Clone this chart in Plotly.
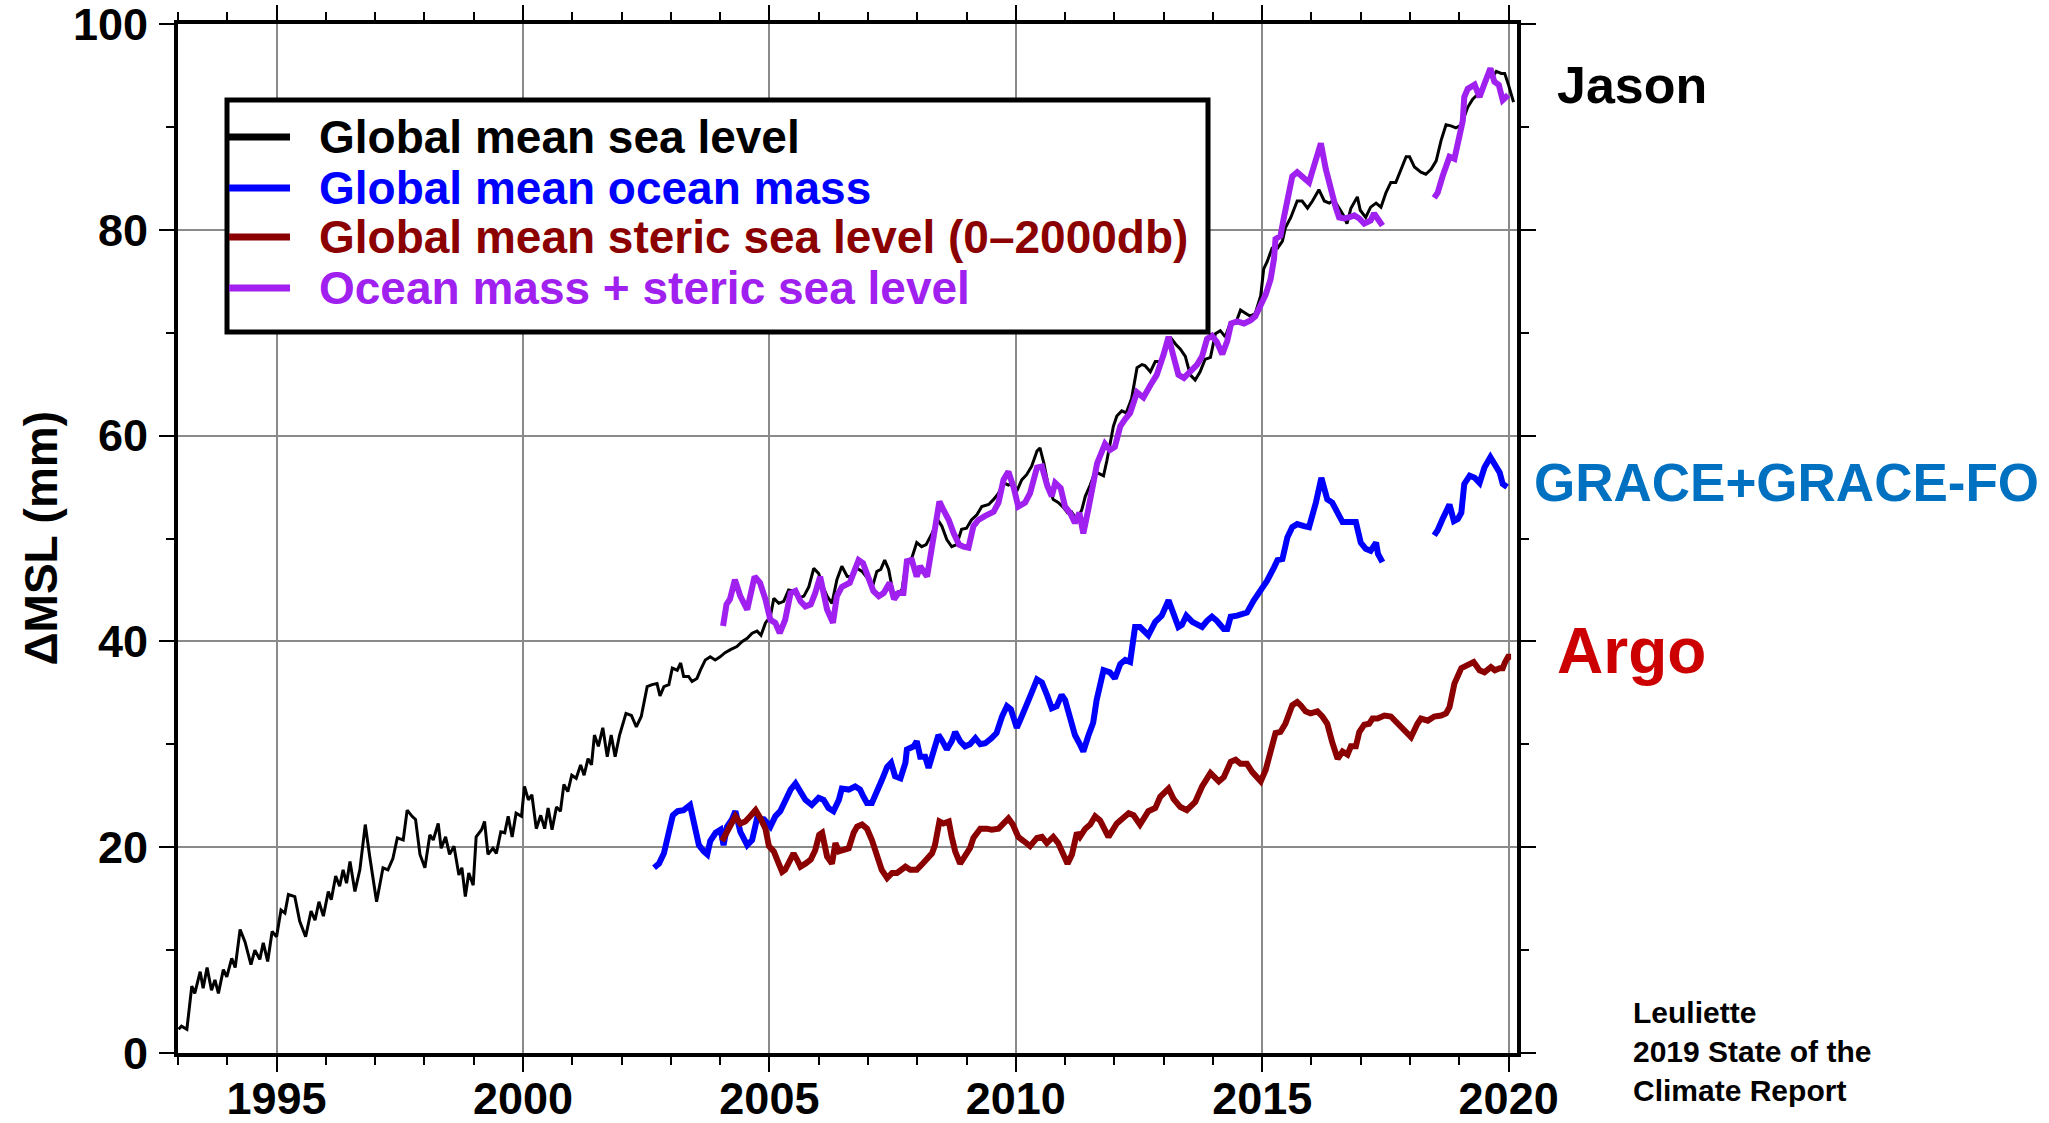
import plotly.graph_objects as go

# ---- Global mean sea level (Jason altimetry), mm ----
gmsl_year = [
    1993.01, 1993.07, 1993.18, 1993.28, 1993.34, 1993.45, 1993.51, 1993.59, 1993.68, 1993.75,
    1993.82, 1993.92, 1993.99, 1994.09, 1994.16, 1994.26, 1994.36, 1994.48, 1994.56, 1994.66,
    1994.73, 1994.82, 1994.91, 1995.00, 1995.09, 1995.17, 1995.24, 1995.37, 1995.47, 1995.59,
    1995.70, 1995.78, 1995.86, 1995.95, 1996.05, 1996.11, 1996.20, 1996.28, 1996.35, 1996.42,
    1996.49, 1996.59, 1996.69, 1996.80, 1996.89, 1997.03, 1997.16, 1997.26, 1997.36, 1997.45,
    1997.57, 1997.65, 1997.75, 1997.82, 1997.91, 1998.01, 1998.11, 1998.18, 1998.28, 1998.34,
    1998.43, 1998.51, 1998.60, 1998.70, 1998.76, 1998.83, 1998.90, 1998.99, 1999.05, 1999.16,
    1999.22, 1999.29, 1999.39, 1999.46, 1999.55, 1999.63, 1999.70, 1999.78, 1999.86, 1999.97,
    2000.03, 2000.11, 2000.18, 2000.27, 2000.36, 2000.44, 2000.51, 2000.59, 2000.68, 2000.76,
    2000.83, 2000.91, 2000.99, 2001.08, 2001.17, 2001.24, 2001.32, 2001.39, 2001.45, 2001.53,
    2001.62, 2001.71, 2001.79, 2001.87, 2001.96, 2002.09, 2002.20, 2002.30, 2002.40, 2002.52,
    2002.62, 2002.72, 2002.78, 2002.86, 2002.96, 2003.03, 2003.13, 2003.20, 2003.26, 2003.36,
    2003.43, 2003.53, 2003.60, 2003.70, 2003.80, 2003.90, 2004.00, 2004.10, 2004.21, 2004.34,
    2004.45, 2004.55, 2004.65, 2004.75, 2004.83, 2004.92, 2005.02, 2005.09, 2005.19, 2005.29,
    2005.39, 2005.49, 2005.59, 2005.70, 2005.80, 2005.90, 2006.00, 2006.09, 2006.17, 2006.27,
    2006.37, 2006.47, 2006.58, 2006.68, 2006.78, 2006.88, 2006.98, 2007.09, 2007.18, 2007.26,
    2007.34, 2007.42, 2007.51, 2007.59, 2007.69, 2007.78, 2007.89, 2007.99, 2008.09, 2008.18,
    2008.30, 2008.42, 2008.50, 2008.60, 2008.70, 2008.80, 2008.90, 2009.00, 2009.10, 2009.21,
    2009.31, 2009.45, 2009.55, 2009.65, 2009.75, 2009.85, 2009.94, 2010.02, 2010.12, 2010.22,
    2010.32, 2010.43, 2010.49, 2010.57, 2010.66, 2010.76, 2010.86, 2010.97, 2011.05, 2011.13,
    2011.24, 2011.34, 2011.41, 2011.51, 2011.61, 2011.78, 2011.85, 2011.98, 2012.05, 2012.15,
    2012.24, 2012.35, 2012.46, 2012.56, 2012.62, 2012.73, 2012.83, 2012.93, 2013.03, 2013.13,
    2013.24, 2013.34, 2013.44, 2013.54, 2013.64, 2013.74, 2013.84, 2013.95, 2014.05, 2014.15,
    2014.25, 2014.35, 2014.46, 2014.56, 2014.66, 2014.76, 2014.86, 2014.97, 2015.03, 2015.10,
    2015.20, 2015.31, 2015.41, 2015.47, 2015.58, 2015.71, 2015.81, 2015.92, 2016.02, 2016.15,
    2016.26, 2016.36, 2016.46, 2016.56, 2016.65, 2016.72, 2016.80, 2016.93, 2016.99, 2017.10,
    2017.20, 2017.31, 2017.41, 2017.51, 2017.61, 2017.71, 2017.82, 2017.92, 2017.99, 2018.09,
    2018.22, 2018.32, 2018.43, 2018.53, 2018.63, 2018.73, 2018.83, 2018.93, 2019.04, 2019.17,
    2019.27, 2019.38, 2019.48, 2019.58, 2019.68, 2019.75, 2019.85, 2019.92, 2019.99, 2020.05,
    2020.10,
]
gmsl_mm = [
    2.3, 2.6, 2.3, 6.5, 5.8, 7.9, 6.3, 8.3, 6.1, 7.1,
    5.8, 8.1, 7.4, 9.2, 8.3, 12.0, 10.8, 8.6, 10.0, 9.1,
    10.7, 8.9, 11.8, 11.3, 13.9, 13.6, 15.4, 15.2, 12.8, 11.3,
    13.8, 12.9, 14.7, 13.3, 15.7, 14.9, 17.2, 16.2, 17.8, 16.5,
    18.6, 15.7, 17.8, 22.2, 19.1, 14.7, 18.0, 17.8, 18.9, 20.9,
    20.7, 23.6, 23.0, 22.7, 19.3, 18.0, 21.2, 20.7, 22.3, 19.9,
    21.0, 19.3, 20.1, 17.3, 18.0, 15.2, 17.5, 16.3, 21.0, 21.7,
    22.5, 19.3, 19.9, 19.4, 21.5, 21.4, 23.0, 21.0, 23.3, 23.0,
    25.9, 24.6, 25.1, 21.8, 23.1, 21.8, 23.8, 21.7, 23.9, 23.5,
    26.1, 25.4, 27.0, 26.7, 28.0, 27.0, 28.6, 28.0, 30.9, 29.8,
    31.6, 28.8, 30.9, 28.8, 30.9, 33.0, 32.8, 31.7, 32.7, 35.6,
    35.8, 35.9, 34.7, 35.6, 35.8, 37.4, 37.2, 37.9, 36.6, 36.6,
    36.1, 36.4, 37.2, 38.2, 38.5, 38.2, 38.5, 38.9, 39.2, 39.5,
    40.0, 40.3, 40.8, 41.0, 40.6, 41.8, 42.4, 44.2, 43.7, 43.9,
    45.0, 44.9, 44.2, 44.4, 45.3, 47.1, 46.6, 45.3, 44.4, 43.7,
    46.0, 47.3, 46.3, 46.3, 47.1, 46.8, 46.2, 45.3, 46.8, 47.0,
    47.9, 47.0, 44.7, 44.7, 45.0, 47.8, 48.1, 49.6, 49.2, 49.4,
    50.5, 51.8, 51.2, 49.9, 49.2, 49.4, 50.9, 51.0, 51.8, 52.3,
    53.1, 53.3, 53.8, 54.4, 55.4, 55.2, 55.4, 54.6, 55.7, 56.2,
    57.0, 58.5, 58.8, 57.3, 55.1, 53.8, 53.5, 53.0, 52.5, 52.6,
    51.8, 52.8, 54.1, 55.2, 56.5, 56.1, 57.6, 60.9, 61.9, 62.4,
    62.2, 63.6, 66.6, 66.9, 66.8, 66.2, 67.2, 67.2, 68.1, 69.6,
    68.9, 68.4, 67.7, 65.9, 65.4, 66.2, 67.4, 67.6, 69.9, 70.2,
    69.6, 70.9, 70.9, 72.2, 71.9, 71.6, 71.9, 73.6, 76.2, 76.9,
    78.2, 78.2, 78.9, 80.2, 81.2, 82.8, 82.8, 82.1, 82.8, 83.9,
    82.8, 82.6, 82.9, 82.1, 81.4, 80.6, 82.1, 83.2, 81.9, 81.2,
    82.2, 82.6, 82.2, 83.6, 84.6, 84.6, 85.9, 87.1, 87.1, 86.1,
    85.6, 85.4, 85.9, 86.7, 88.7, 90.2, 90.1, 89.9, 90.2, 91.9,
    92.7, 93.2, 93.9, 94.9, 94.9, 95.4, 95.2, 95.2, 94.2, 93.2,
    92.4,
]

# ---- Global mean ocean mass (GRACE + GRACE-FO), mm; None marks the mission gap ----
mass_year = [
    2002.66, 2002.76, 2002.86, 2002.96, 2003.04, 2003.14, 2003.26, 2003.39, 2003.47, 2003.57,
    2003.67, 2003.74, 2003.80, 2003.91, 2004.01, 2004.07, 2004.14, 2004.24, 2004.31, 2004.41,
    2004.55, 2004.65, 2004.75, 2004.89, 2005.02, 2005.12, 2005.22, 2005.32, 2005.43, 2005.53,
    2005.63, 2005.73, 2005.86, 2006.00, 2006.10, 2006.20, 2006.30, 2006.41, 2006.47, 2006.61,
    2006.74, 2006.84, 2006.91, 2006.98, 2007.08, 2007.18, 2007.28, 2007.39, 2007.47, 2007.55,
    2007.66, 2007.76, 2007.79, 2007.93, 2007.99, 2008.06, 2008.16, 2008.23, 2008.33, 2008.43,
    2008.50, 2008.60, 2008.70, 2008.77, 2008.87, 2008.97, 2009.07, 2009.18, 2009.28, 2009.38,
    2009.51, 2009.61, 2009.72, 2009.82, 2009.90, 2010.02, 2010.12, 2010.22, 2010.32, 2010.43,
    2010.53, 2010.64, 2010.73, 2010.83, 2010.93, 2011.00, 2011.10, 2011.20, 2011.29, 2011.37,
    2011.47, 2011.57, 2011.64, 2011.78, 2011.91, 2012.01, 2012.12, 2012.22, 2012.32, 2012.42,
    2012.52, 2012.69, 2012.83, 2012.96, 2013.10, 2013.20, 2013.30, 2013.37, 2013.46, 2013.58,
    2013.78, 2013.88, 2013.98, 2014.08, 2014.22, 2014.29, 2014.36, 2014.49, 2014.69, 2014.83,
    2014.97, 2015.10, 2015.24, 2015.31, 2015.41, 2015.51, 2015.61, 2015.71, 2015.85, 2015.95,
    2016.09, 2016.20, 2016.32, 2016.42, 2016.53, 2016.63, 2016.76, 2016.90, 2017.00, 2017.10,
    2017.20, 2017.31, 2017.35, 2017.44, 2017.95, 2018.49, 2018.56, 2018.66, 2018.80, 2018.89,
    2018.97, 2019.04, 2019.10, 2019.21, 2019.31, 2019.41, 2019.51, 2019.63, 2019.72, 2019.82,
    2019.88, 2019.97,
]
mass_mm = [
    18.0, 18.4, 19.4, 21.7, 23.1, 23.5, 23.6, 24.1, 22.2, 20.2,
    19.6, 19.3, 20.6, 21.4, 21.7, 20.2, 22.0, 22.7, 23.5, 21.5,
    20.2, 20.7, 22.8, 22.7, 22.0, 23.0, 23.5, 24.6, 25.6, 26.2,
    25.3, 24.6, 24.1, 24.8, 24.6, 23.8, 23.5, 24.6, 25.7, 25.6,
    25.9, 25.6, 24.9, 24.3, 24.3, 25.6, 26.5, 27.8, 28.2, 26.9,
    26.7, 28.2, 29.5, 29.8, 30.3, 28.8, 28.8, 27.7, 29.1, 30.9,
    30.4, 29.5, 30.3, 31.2, 30.3, 29.8, 30.0, 30.6, 30.0, 30.1,
    30.6, 31.1, 32.7, 33.7, 33.4, 31.6, 32.7, 34.0, 35.0, 36.3,
    36.0, 34.7, 33.5, 33.7, 34.8, 34.3, 32.7, 30.9, 30.1, 29.3,
    30.8, 32.1, 34.3, 37.2, 37.0, 36.4, 37.8, 38.2, 38.0, 41.4,
    41.4, 40.6, 41.9, 42.5, 44.0, 42.5, 41.4, 41.6, 42.5, 41.9,
    41.4, 42.0, 42.4, 42.0, 41.2, 41.2, 42.4, 42.5, 42.8, 44.0,
    44.9, 45.9, 47.2, 47.9, 48.0, 50.1, 51.1, 51.4, 51.2, 51.1,
    53.5, 55.9, 53.8, 53.5, 52.5, 51.6, 51.6, 51.6, 49.6, 49.0,
    48.8, 49.6, 48.5, 47.7, None, 50.3, 50.8, 51.9, 53.3, 51.7,
    51.9, 52.5, 55.3, 56.1, 55.9, 55.4, 56.9, 57.9, 57.1, 56.4,
    55.3, 55.0,
]

# ---- Global mean steric sea level, 0-2000 dbar (Argo), mm ----
steric_year = [
    2004.04, 2004.14, 2004.21, 2004.31, 2004.41, 2004.51, 2004.61, 2004.72, 2004.82, 2004.92,
    2004.99, 2005.09, 2005.19, 2005.26, 2005.32, 2005.43, 2005.49, 2005.56, 2005.63, 2005.73,
    2005.84, 2005.93, 2006.01, 2006.07, 2006.17, 2006.27, 2006.34, 2006.41, 2006.51, 2006.61,
    2006.71, 2006.78, 2006.88, 2006.98, 2007.08, 2007.18, 2007.28, 2007.39, 2007.49, 2007.59,
    2007.67, 2007.76, 2007.86, 2007.99, 2008.09, 2008.20, 2008.30, 2008.36, 2008.45, 2008.53,
    2008.64, 2008.70, 2008.77, 2008.87, 2008.97, 2009.07, 2009.14, 2009.28, 2009.41, 2009.51,
    2009.65, 2009.75, 2009.85, 2009.94, 2010.05, 2010.16, 2010.29, 2010.43, 2010.53, 2010.63,
    2010.76, 2010.86, 2010.97, 2011.05, 2011.14, 2011.24, 2011.30, 2011.41, 2011.51, 2011.61,
    2011.71, 2011.88, 2012.05, 2012.29, 2012.39, 2012.52, 2012.69, 2012.83, 2012.93, 2013.10,
    2013.20, 2013.34, 2013.47, 2013.64, 2013.78, 2013.95, 2014.12, 2014.22, 2014.36, 2014.46,
    2014.56, 2014.69, 2014.80, 2014.97, 2015.07, 2015.17, 2015.27, 2015.37, 2015.47, 2015.61,
    2015.71, 2015.78, 2015.88, 2015.98, 2016.12, 2016.22, 2016.32, 2016.42, 2016.53, 2016.63,
    2016.73, 2016.80, 2016.90, 2016.97, 2017.07, 2017.17, 2017.24, 2017.34, 2017.48, 2017.61,
    2017.75, 2017.88, 2018.02, 2018.15, 2018.22, 2018.36, 2018.49, 2018.63, 2018.73, 2018.80,
    2018.90, 2019.04, 2019.17, 2019.29, 2019.41, 2019.51, 2019.64, 2019.72, 2019.82, 2019.88,
    2019.93, 2019.99, 2020.05,
]
steric_mm = [
    20.6, 21.5, 22.2, 23.0, 22.3, 22.5, 23.0, 23.6, 22.8, 21.8,
    20.1, 19.6, 18.4, 17.6, 17.8, 18.9, 19.4, 18.8, 18.1, 18.4,
    18.8, 19.7, 21.2, 21.4, 19.1, 18.4, 20.4, 19.6, 19.7, 19.9,
    21.4, 22.0, 22.2, 21.8, 20.7, 19.4, 17.8, 17.0, 17.5, 17.5,
    17.8, 18.1, 17.8, 17.8, 18.3, 18.8, 19.4, 20.2, 22.5, 22.3,
    22.5, 21.0, 19.6, 18.4, 19.1, 19.9, 20.9, 21.8, 21.8, 21.7,
    21.8, 22.3, 22.8, 22.2, 21.0, 20.6, 20.1, 20.9, 21.0, 20.4,
    21.0, 20.4, 19.4, 18.4, 19.3, 21.4, 21.0, 21.8, 22.2, 23.0,
    22.6, 21.0, 22.3, 23.3, 23.1, 22.2, 23.5, 23.8, 24.9, 25.7,
    24.7, 23.9, 23.6, 24.4, 25.9, 27.2, 26.4, 26.8, 28.3, 28.5,
    28.1, 28.1, 27.3, 26.4, 27.5, 29.1, 31.1, 31.2, 32.0, 33.8,
    34.1, 33.8, 33.2, 33.0, 33.2, 32.7, 32.0, 30.2, 28.6, 29.3,
    29.0, 29.8, 29.8, 31.2, 31.9, 32.0, 32.5, 32.5, 32.8, 32.7,
    32.0, 31.2, 30.7, 32.0, 32.5, 32.3, 32.7, 32.8, 33.0, 33.6,
    35.9, 37.4, 37.8, 38.0, 37.2, 37.0, 37.5, 37.2, 37.4, 37.4,
    38.0, 38.5, 38.5,
]

# ---- Ocean mass + steric sea level, mm ----
budget_year = [
    2004.06, 2004.13, 2004.20, 2004.30, 2004.41, 2004.55, 2004.70, 2004.81, 2004.92, 2005.02,
    2005.12, 2005.21, 2005.32, 2005.43, 2005.53, 2005.63, 2005.73, 2005.84, 2005.93, 2006.03,
    2006.17, 2006.29, 2006.37, 2006.47, 2006.63, 2006.71, 2006.81, 2006.90, 2007.01, 2007.11,
    2007.22, 2007.32, 2007.44, 2007.53, 2007.62, 2007.72, 2007.79, 2007.89, 2007.99, 2008.06,
    2008.20, 2008.33, 2008.45, 2008.53, 2008.64, 2008.74, 2008.85, 2008.94, 2009.04, 2009.14,
    2009.24, 2009.38, 2009.55, 2009.65, 2009.75, 2009.85, 2009.96, 2010.05, 2010.19, 2010.29,
    2010.43, 2010.53, 2010.64, 2010.73, 2010.80, 2010.91, 2011.00, 2011.10, 2011.20, 2011.29,
    2011.37, 2011.47, 2011.57, 2011.65, 2011.81, 2011.91, 2012.01, 2012.12, 2012.22, 2012.32,
    2012.46, 2012.59, 2012.73, 2012.86, 2013.00, 2013.10, 2013.20, 2013.30, 2013.41, 2013.54,
    2013.68, 2013.78, 2013.88, 2013.98, 2014.08, 2014.19, 2014.29, 2014.37, 2014.49, 2014.63,
    2014.76, 2014.86, 2014.97, 2015.07, 2015.17, 2015.24, 2015.27, 2015.37, 2015.44, 2015.61,
    2015.71, 2015.85, 2015.95, 2016.05, 2016.19, 2016.29, 2016.39, 2016.49, 2016.56, 2016.66,
    2016.76, 2016.87, 2016.97, 2017.07, 2017.20, 2017.27, 2017.34, 2017.44, 2017.95, 2018.49,
    2018.56, 2018.66, 2018.80, 2018.90, 2019.00, 2019.07, 2019.10, 2019.17, 2019.31, 2019.41,
    2019.51, 2019.63, 2019.71, 2019.80, 2019.88, 2019.99,
]
budget_mm = [
    41.5, 43.6, 44.1, 46.0, 44.4, 43.1, 46.3, 45.7, 44.1, 42.1,
    41.8, 40.8, 42.1, 44.7, 44.9, 43.9, 43.4, 43.6, 44.7, 46.3,
    43.1, 41.8, 44.4, 45.3, 45.7, 46.8, 47.9, 47.6, 46.0, 44.9,
    44.4, 44.7, 45.7, 44.1, 44.7, 44.7, 47.8, 47.9, 46.3, 47.3,
    46.3, 50.2, 53.6, 52.8, 51.8, 50.5, 49.4, 49.2, 49.1, 51.2,
    51.8, 52.2, 52.6, 53.5, 55.7, 56.5, 54.9, 53.1, 53.5, 54.4,
    56.9, 57.0, 55.1, 54.1, 55.4, 54.9, 53.1, 52.5, 51.5, 52.5,
    50.5, 52.8, 55.4, 57.3, 59.2, 58.6, 58.9, 60.9, 61.6, 62.2,
    64.2, 63.7, 64.9, 65.9, 67.9, 69.6, 67.7, 65.9, 65.6, 66.2,
    66.9, 67.7, 69.4, 69.7, 69.1, 67.9, 69.2, 70.9, 71.1, 70.9,
    71.2, 71.6, 72.7, 73.7, 75.2, 77.2, 79.1, 79.4, 81.2, 85.2,
    85.6, 85.1, 84.6, 86.2, 88.4, 85.9, 83.9, 82.2, 81.2, 81.1,
    81.2, 81.4, 81.1, 80.6, 80.9, 81.6, 81.1, 80.4, None, 83.1,
    83.6, 85.2, 87.1, 86.9, 89.2, 90.6, 92.9, 93.7, 94.1, 92.9,
    94.2, 95.7, 94.4, 94.1, 92.6, 93.1,
]

series_names = [
    "Global mean sea level",
    "Global mean ocean mass",
    "Global mean steric sea level (0\u20132000db)",
    "Ocean mass + steric sea level",
]
series_colors = ["#000000", "#0000FF", "#8B0000", "#A020F0"]
series_widths = [3, 6, 6, 6]

x_ticks = [1995, 2000, 2005, 2010, 2015, 2020]
y_ticks = [0, 20, 40, 60, 80, 100]
y_label = "\u0394MSL (mm)"

FONT = "Liberation Sans"

# plot-area edges in page pixels, used to place the key and side labels
W, H = 2049, 1123
L, R, T, B = 178, 1517, 24, 1053


def px(x):
    return (x - L) / (R - L)


def py(y):
    return (B - y) / (B - T)


fig = go.Figure()
for yrs, vals, name, col, lw in zip(
    [gmsl_year, mass_year, steric_year, budget_year],
    [gmsl_mm, mass_mm, steric_mm, budget_mm],
    series_names, series_colors, series_widths,
):
    fig.add_trace(go.Scatter(
        x=yrs, y=vals, mode="lines", name=name,
        line=dict(color=col, width=lw), showlegend=False,
    ))

axis_common = dict(
    automargin=False, ticklabeloverflow="allow",
    showline=True, linewidth=4, linecolor="black", mirror="ticks",
    ticks="outside", ticklen=15, tickwidth=2, tickcolor="black",
    showgrid=True, gridcolor="#8a8a8a", gridwidth=1.5, zeroline=False,
    tickfont=dict(family=FONT, size=45, color="black", weight="bold"),
)

fig.update_xaxes(
    range=[1993, 2020.17], tickvals=x_ticks, ticklabelstandoff=-12,
    minor=dict(dtick=1, tick0=1993, ticks="outside", ticklen=8, tickwidth=2,
               tickcolor="black", showgrid=False),
    **axis_common,
)
fig.update_yaxes(
    range=[0, 100], tickvals=y_ticks, ticklabelstandoff=2,
    minor=dict(dtick=10, tick0=0, ticks="outside", ticklen=8, tickwidth=2,
               tickcolor="black", showgrid=False),
    **axis_common,
)

annotations = []

# vertical axis label, set in the left margin
annotations.append(dict(xref="paper", yref="paper", x=px(40), y=0.5,
                        xanchor="center", yanchor="middle", showarrow=False,
                        textangle=-90, text=y_label,
                        font=dict(family=FONT, size=46, color="black", weight="bold")))

# key box with line samples
shapes = [dict(type="rect", xref="paper", yref="paper", layer="above",
               x0=px(227), x1=px(1208), y0=py(332), y1=py(100),
               line=dict(color="black", width=5), fillcolor="white")]
key_rows = [137, 188, 237, 288]
for row, name, col in zip(key_rows, series_names, series_colors):
    shapes.append(dict(type="line", xref="paper", yref="paper", layer="above",
                       x0=px(229), x1=px(290), y0=py(row), y1=py(row),
                       line=dict(color=col, width=7)))
    annotations.append(dict(xref="paper", yref="paper", x=px(317), y=py(row),
                            xanchor="left", yanchor="middle", showarrow=False,
                            text=name,
                            font=dict(family=FONT, size=46, color=col, weight="bold")))

# data-source labels to the right of the frame
side_labels = [
    ("Jason", 1555, 85, 52, "#000000"),
    ("GRACE+GRACE-FO", 1532, 482, 53, "#0070C0"),
    ("Argo", 1555, 651, 64, "#CC0000"),
]
for txt, x, y, size, col in side_labels:
    annotations.append(dict(xref="paper", yref="paper", x=px(x), y=py(y),
                            xanchor="left", yanchor="middle", showarrow=False,
                            text=txt,
                            font=dict(family=FONT, size=size, color=col, weight="bold")))

annotations.append(dict(xref="paper", yref="paper", x=px(1631), y=py(1051),
                        xanchor="left", yanchor="middle", showarrow=False, align="left",
                        text="Leuliette<br>2019 State of the<br>Climate Report",
                        font=dict(family=FONT, size=30, color="black", weight="bold")))

fig.update_layout(
    width=W, height=H,
    margin=dict(l=L, r=W - R, t=T, b=H - B, pad=0, autoexpand=False),
    paper_bgcolor="white", plot_bgcolor="white",
    shapes=shapes, annotations=annotations,
    showlegend=False,
)

fig.write_html("out.html")
